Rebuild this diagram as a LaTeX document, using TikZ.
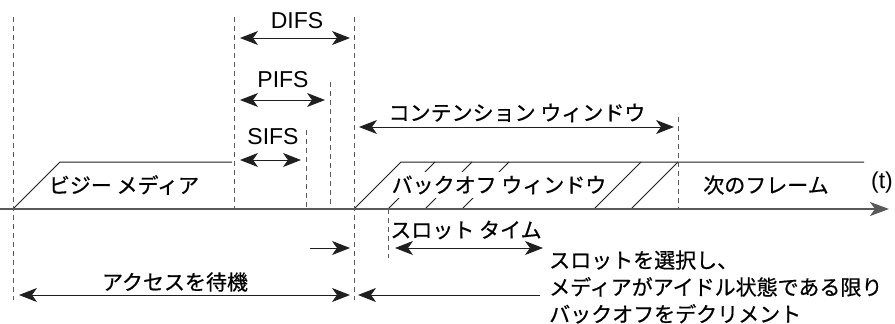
\documentclass[tikz,border=0pt]{standalone}
\usepackage{fontspec}
\setmainfont{Liberation Sans}
\newfontfamily\jp[FakeBold=0.6]{Noto Sans CJK JP}
\usetikzlibrary{arrows.meta}
\begin{document}
\begin{tikzpicture}[x=1pt,y=-1pt,
  dline/.style={draw=black!65, line width=0.9pt, dash pattern=on 5pt off 4pt},
  sline/.style={draw=black!88, line width=1pt},
  axisline/.style={draw=black!65, line width=2pt, -{Stealth[length=19pt,width=14pt,inset=5pt]}},
  dim/.style={sline, {Stealth[length=18pt,width=14pt,inset=5pt]}-{Stealth[length=18pt,width=14pt,inset=5pt]}},
  onearrow/.style={sline, -{Stealth[length=18pt,width=14pt,inset=5pt]}},
  lat/.style={inner sep=0pt, font=\fontsize{23}{27}\selectfont},
  jtxt/.style={inner sep=0pt, font=\jp\fontsize{21}{27}\selectfont}]
\useasboundingbox (0,0) rectangle (895,324);

% coordinates
\coordinate (axL) at (0,209);
\coordinate (axR) at (889,209);
% dashed lines
\coordinate (d1t) at (13,17);   \coordinate (d1b) at (13,300);
\coordinate (d2t) at (234,17);  \coordinate (d2b) at (234,209);
\coordinate (d3t) at (354,17);  \coordinate (d3b) at (354,300);
\coordinate (d4t) at (330,82);  \coordinate (d4b) at (330,209);
\coordinate (d5t) at (306,130); \coordinate (d5b) at (306,209);
\coordinate (d6t) at (678,117); \coordinate (d6b) at (678,209);
\coordinate (d7t) at (388,209); \coordinate (d7b) at (388,258);

% hatch lines (partly hidden by label)
\coordinate (h1a) at (388,209); \coordinate (h1b) at (435,162);
\coordinate (h2a) at (425,209); \coordinate (h2b) at (472,162);
\coordinate (h3a) at (462,209); \coordinate (h3b) at (509,162);
\draw[sline] (h1a) -- (h1b);
\draw[sline] (h2a) -- (h2b);
\draw[sline] (h3a) -- (h3b);

% frame labels
\node[jtxt] (busy) at (124,185) {ビジー メディア};
\node[jtxt, fill=white, inner xsep=2pt, inner ysep=4pt] (backoff) at (499,185) {バックオフ ウィンドウ};
\node[jtxt] (next) at (766,185) {次のフレーム};
\node[lat] (t) at (882,183) {(t)};

% frames
\coordinate (b1) at (13,209); \coordinate (b2) at (60,162); \coordinate (b3) at (232,162);
\draw[sline] (b1) -- (b2) -- (b3);
\coordinate (w1) at (354,209); \coordinate (w2) at (401,162); \coordinate (w3) at (864,162);
\draw[sline] (w1) -- (w2) -- (w3);
\coordinate (s1a) at (594,209); \coordinate (s1b) at (641,162);
\coordinate (s2a) at (631,209); \coordinate (s2b) at (678,162);
\draw[sline] (s1a) -- (s1b);
\draw[sline] (s2a) -- (s2b);

% axis
\draw[axisline] (axL) -- (axR);

% dashed
\draw[dline] (d1t) -- (d1b);
\draw[dline] (d2t) -- (d2b);
\draw[dline] (d3t) -- (d3b);
\draw[dline] (d4t) -- (d4b);
\draw[dline] (d5t) -- (d5b);
\draw[dline] (d6t) -- (d6b);
\draw[dline] (d7t) -- (d7b);

% IFS arrows
\coordinate (difsL) at (240,38); \coordinate (difsR) at (350,38);
\draw[dim] (difsL) -- (difsR);
\node[lat] (difs) at (297,21) {DIFS};
\coordinate (pifsL) at (240,100); \coordinate (pifsR) at (325,100);
\draw[dim] (pifsL) -- (pifsR);
\node[lat] (pifs) at (283,80) {PIFS};
\coordinate (sifsL) at (240,160); \coordinate (sifsR) at (301,160);
\draw[dim] (sifsL) -- (sifsR);
\node[lat] (sifs) at (273,137) {SIFS};

% contention window
\coordinate (cwL) at (359,127); \coordinate (cwR) at (674,127);
\draw[dim] (cwL) -- (cwR);
\node[jtxt] (cw) at (517,113) {コンテンション ウィンドウ};

% slot time
\coordinate (stL) at (395,248); \coordinate (stR) at (543,248);
\draw[dim] (stL) -- (stR);
\node[jtxt] (st) at (466,230) {スロット タイム};
\coordinate (shA) at (310,248); \coordinate (shB) at (350,248);
\draw[onearrow] (shA) -- (shB);

% bottom arrows
\coordinate (awL) at (19,295); \coordinate (awR) at (350,295);
\draw[dim] (awL) -- (awR);
\node[jtxt] (aw) at (175,282) {アクセスを待機};
\coordinate (decA) at (540,295); \coordinate (decB) at (358,295);
\draw[onearrow] (decA) -- (decB);
\node[jtxt, anchor=west, align=left] (dec) at (549,287) {スロットを選択し、\\メディアがアイドル状態である限り\\バックオフをデクリメント};
\end{tikzpicture}
\end{document}
